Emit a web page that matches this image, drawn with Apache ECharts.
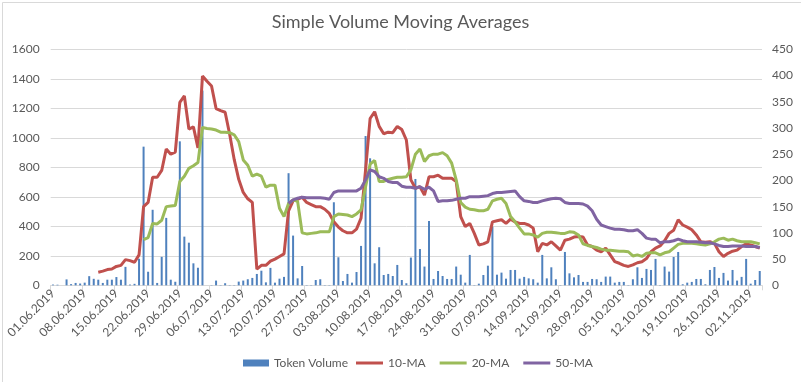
<!DOCTYPE html>
<html>
<head>
<meta charset="utf-8">
<script src="https://cdn.jsdelivr.net/npm/echarts@6/dist/echarts.min.js"></script>
<style>
html,body{margin:0;padding:0;background:#fff;}
#chart{width:801px;height:382px;}
</style>
</head>
<body>
<div id="chart"></div>
<script>
const categories = [
"01.06.2019","02.06.2019","03.06.2019","04.06.2019","05.06.2019","06.06.2019","07.06.2019","08.06.2019","09.06.2019","10.06.2019",
"11.06.2019","12.06.2019","13.06.2019","14.06.2019","15.06.2019","16.06.2019","17.06.2019","18.06.2019","19.06.2019","20.06.2019",
"21.06.2019","22.06.2019","23.06.2019","24.06.2019","25.06.2019","26.06.2019","27.06.2019","28.06.2019","29.06.2019","30.06.2019",
"01.07.2019","02.07.2019","03.07.2019","04.07.2019","05.07.2019","06.07.2019","07.07.2019","08.07.2019","09.07.2019","10.07.2019",
"11.07.2019","12.07.2019","13.07.2019","14.07.2019","15.07.2019","16.07.2019","17.07.2019","18.07.2019","19.07.2019","20.07.2019",
"21.07.2019","22.07.2019","23.07.2019","24.07.2019","25.07.2019","26.07.2019","27.07.2019","28.07.2019","29.07.2019","30.07.2019","31.07.2019",
"01.08.2019","02.08.2019","03.08.2019","04.08.2019","05.08.2019","06.08.2019","07.08.2019","08.08.2019","09.08.2019","10.08.2019",
"11.08.2019","12.08.2019","13.08.2019","14.08.2019","15.08.2019","16.08.2019","17.08.2019","18.08.2019","19.08.2019","20.08.2019",
"21.08.2019","22.08.2019","23.08.2019","24.08.2019","25.08.2019","26.08.2019","27.08.2019","28.08.2019","29.08.2019","30.08.2019","31.08.2019",
"01.09.2019","02.09.2019","03.09.2019","04.09.2019","05.09.2019","06.09.2019","07.09.2019","08.09.2019","09.09.2019","10.09.2019",
"11.09.2019","12.09.2019","13.09.2019","14.09.2019","15.09.2019","16.09.2019","17.09.2019","18.09.2019","19.09.2019","20.09.2019",
"21.09.2019","22.09.2019","23.09.2019","24.09.2019","25.09.2019","26.09.2019","27.09.2019","28.09.2019","29.09.2019","30.09.2019",
"01.10.2019","02.10.2019","03.10.2019","04.10.2019","05.10.2019","06.10.2019","07.10.2019","08.10.2019","09.10.2019","10.10.2019",
"11.10.2019","12.10.2019","13.10.2019","14.10.2019","15.10.2019","16.10.2019","17.10.2019","18.10.2019","19.10.2019","20.10.2019",
"21.10.2019","22.10.2019","23.10.2019","24.10.2019","25.10.2019","26.10.2019","27.10.2019","28.10.2019","29.10.2019","30.10.2019","31.10.2019",
"01.11.2019","02.11.2019","03.11.2019","04.11.2019"
];

const tokenVolume = [
5,4,0,40,8,16,12,18,62,44,
38,16,38,38,56,38,125,5,10,180,
940,92,512,16,193,457,38,24,976,330,
289,149,119,1320,0,2,32,2,14,2,
2,25,32,41,50,77,99,20,118,18,
45,57,760,337,47,131,2,2,36,41,
2,2,563,190,29,77,18,90,267,1012,
861,149,258,70,77,63,138,36,14,188,
721,246,127,436,43,97,63,43,43,127,
72,18,206,2,11,70,133,398,72,86,
45,104,104,45,57,47,41,18,206,47,
122,41,2,226,81,54,70,23,23,43,
41,23,59,59,18,23,23,2,41,122,
50,111,104,179,2,127,93,192,226,7,
18,23,43,43,7,104,124,50,84,32,
104,32,57,179,11,36,97
];

const ma10 = [
null,null,null,null,null,null,null,null,null,null,
25,27,30,31,36,38,49,47,44,58,
150,158,206,206,219,260,250,254,349,361,
298,302,262,399,389,380,337,333,330,288,
240,202,177,165,158,31,38,38,46,50,
55,60,142,161,164,168,158,154,150,150,
145,137,121,111,104,100,100,107,128,220,
318,331,303,289,292,291,303,297,277,201,
185,188,172,207,207,210,204,204,204,198,
131,112,118,99,77,79,83,121,123,125,
118,126,121,118,118,115,109,64,80,77,
83,75,67,86,88,92,93,92,77,74,
67,64,71,58,45,42,38,36,39,43,
45,51,64,71,75,85,99,105,125,115,
111,106,96,83,82,83,80,64,55,61,
65,67,74,79,77,74,71
];

const ma20 = [
null,null,null,null,null,null,null,null,null,null,
null,null,null,null,null,null,null,null,null,null,
87,91,118,117,124,150,151,152,198,208,
223,228,234,301,299,298,296,292,292,291,
287,274,239,229,208,212,208,187,191,191,
147,131,156,163,160,100,98,99,100,102,
102,102,131,136,135,134,131,136,144,188,
231,238,198,198,202,204,206,206,207,220,
250,260,236,247,250,250,253,247,233,201,
158,149,145,144,142,142,145,161,164,166,
156,131,121,109,98,98,96,92,99,101,
101,100,99,99,102,101,96,79,76,74,
72,69,67,67,66,65,65,64,56,58,
55,61,62,62,58,62,64,71,78,80,
80,80,79,78,77,79,83,88,90,86,
88,85,83,83,83,81,79
];

const ma50 = [
null,null,null,null,null,null,null,null,null,null,
null,null,null,null,null,null,null,null,null,null,
null,null,null,null,null,null,null,null,null,null,
null,null,null,null,null,null,null,null,null,null,
null,null,null,null,null,null,null,null,null,null,
null,null,156,163,166,168,167,167,167,167,
166,164,177,180,180,180,180,180,185,201,
220,217,207,204,198,196,196,189,187,187,
185,188,183,187,180,160,161,161,162,164,
166,166,169,169,169,170,171,175,177,177,
178,179,180,169,161,160,158,158,161,163,
165,166,165,158,156,156,156,155,151,142,
126,115,112,109,107,107,106,104,104,106,
99,90,88,88,81,83,83,85,88,85,
83,83,83,82,81,81,79,76,74,74,
75,75,75,74,74,74,72
];

const leftTicks = { min: 0, max: 1600, interval: 200 };
const rightTicks = { min: 0, max: 450, interval: 50 };

const FONT = 'Lato';
const TXT = '#595959';

const chart = echarts.init(document.getElementById('chart'), null, { renderer: 'canvas' });
chart.setOption({
  animation: false,
  backgroundColor: '#ffffff',
  textStyle: { fontFamily: FONT },
  graphic: [{
    type: 'rect', left: 0, top: 0, silent: true,
    shape: { x: 0.5, y: 0.5, width: 799, height: 380 },
    style: { fill: 'none', stroke: '#d9d9d9', lineWidth: 1 }
  }],
  title: {
    text: 'Simple Volume Moving Averages',
    left: 'center', top: 8,
    textStyle: { fontFamily: FONT, fontSize: 18, fontWeight: 'normal', color: TXT }
  },
  legend: [
    {
      left: 238, top: 352,
      itemWidth: 26, itemHeight: 7, itemGap: 14,
      textStyle: { fontFamily: FONT, fontSize: 12, color: TXT },
      data: [{ name: 'Token Volume', icon: 'rect' }]
    },
    {
      left: 351, top: 352,
      itemWidth: 27, itemHeight: 3, itemGap: 14,
      textStyle: { fontFamily: FONT, fontSize: 12, color: TXT },
      data: [
        { name: '10-MA', icon: 'rect' },
        { name: '20-MA', icon: 'rect' },
        { name: '50-MA', icon: 'rect' }
      ]
    }
  ],
  grid: { left: 50.7, right: 39, top: 49.3, bottom: 96.7, containLabel: false },
  xAxis: {
    type: 'category',
    data: categories,
    boundaryGap: true,
    axisLine: { show: true, lineStyle: { color: '#d9d9d9', width: 1 } },
    axisTick: { show: true, interval: 6, length: 5, lineStyle: { color: '#d9d9d9' } },
    axisLabel: { interval: 6, rotate: 45, margin: 6, fontFamily: FONT, fontSize: 12, color: TXT },
    splitLine: { show: false }
  },
  yAxis: [
    {
      type: 'value', min: leftTicks.min, max: leftTicks.max, interval: leftTicks.interval,
      axisLine: { show: false }, axisTick: { show: false },
      axisLabel: { margin: 11, fontFamily: FONT, fontSize: 12, color: TXT, formatter: function (v) { return String(v); } },
      splitLine: { show: true, lineStyle: { color: '#d9d9d9', width: 1 } }
    },
    {
      type: 'value', min: rightTicks.min, max: rightTicks.max, interval: rightTicks.interval,
      position: 'right',
      axisLine: { show: false }, axisTick: { show: false },
      axisLabel: { margin: 10, fontFamily: FONT, fontSize: 12, color: TXT, formatter: function (v) { return String(v); } },
      splitLine: { show: false }
    }
  ],
  series: [
    {
      name: 'Token Volume', type: 'bar', yAxisIndex: 0, data: tokenVolume,
      barWidth: 2, itemStyle: { color: '#4f81bd' }, z: 2
    },
    {
      name: '10-MA', type: 'line', yAxisIndex: 1, data: ma10,
      symbol: 'none', lineStyle: { color: '#c0504d', width: 3 }, itemStyle: { color: '#c0504d' }, z: 3
    },
    {
      name: '20-MA', type: 'line', yAxisIndex: 1, data: ma20,
      symbol: 'none', lineStyle: { color: '#9bbb59', width: 3 }, itemStyle: { color: '#9bbb59' }, z: 4
    },
    {
      name: '50-MA', type: 'line', yAxisIndex: 1, data: ma50,
      symbol: 'none', lineStyle: { color: '#8064a2', width: 3 }, itemStyle: { color: '#8064a2' }, z: 5
    }
  ]
});
</script>
</body>
</html>
